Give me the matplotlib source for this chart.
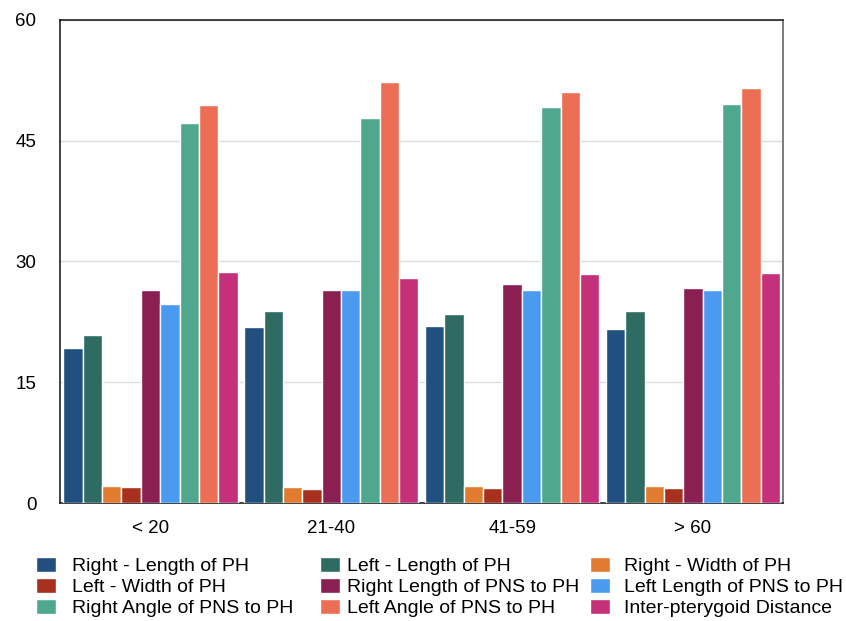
import numpy as np
import matplotlib.pyplot as plt

plt.rcParams['font.family'] = ['Liberation Sans', 'DejaVu Sans']

groups = ["< 20", "21-40", "41-59", "> 60"]
series_names = [
    "Right - Length of PH", "Left - Length of PH", "Right - Width of PH",
    "Left - Width of PH", "Right Length of PNS to PH", "Left Length of PNS to PH",
    "Right Angle of PNS to PH", "Left Angle of PNS to PH", "Inter-pterygoid Distance",
]
right_length = [19.3, 21.9, 22.0, 21.6]
left_length = [20.9, 23.8, 23.5, 23.8]
right_width = [2.1, 1.95, 2.1, 2.15]
left_width = [2.0, 1.8, 1.9, 1.85]
right_pns = [26.5, 26.5, 27.2, 26.7]
left_pns = [24.7, 26.5, 26.5, 26.5]
right_angle = [47.2, 47.8, 49.2, 49.5]
left_angle = [49.4, 52.3, 51.1, 51.5]
inter_pterygoid = [28.7, 28.0, 28.5, 28.6]

values = [right_length, left_length, right_width, left_width, right_pns,
          left_pns, right_angle, left_angle, inter_pterygoid]
colors = ["#204f80", "#2e6b63", "#e07b30", "#a8301e", "#8a1f52",
          "#4a9af0", "#4fa88e", "#ec6f55", "#c4307a"]

fig = plt.figure(figsize=(8.46, 6.21), dpi=100)
ax = fig.add_axes([0.071, 0.19, 0.855, 0.778])

x = np.arange(len(groups))
w = 0.107
handles = []
for i, (vals, c, name) in enumerate(zip(values, colors, series_names)):
    b = ax.bar(x + (i - 4) * w, vals, w, color=c, edgecolor="white",
               linewidth=1, label=name, zorder=3)
    handles.append(b)

ax.set_xlim(-0.5, 3.5)
ax.set_ylim(0, 60)
ax.set_yticks([0, 15, 30, 45, 60])
ax.set_xticks(x)
ax.set_xticklabels(groups)
ax.tick_params(length=0, labelsize=13.5)
ax.tick_params(axis="x", pad=12)
ax.tick_params(axis="y", pad=17)
ax.grid(axis="y", color="#dddddd", linewidth=1, zorder=0)
for s in ax.spines.values():
    s.set_color("#222222")
    s.set_linewidth(1.2)
ax.spines["right"].set_color("#666666")

# legend laid out as a fixed 3x3 grid, one legend per column
col_x = [0.042, 0.378, 0.697]
col_pad = [0.8, 0.35, 0.7]
for c in range(3):
    idx = [c, c + 3, c + 6]
    fig.legend([handles[k] for k in idx], [series_names[k] for k in idx],
               loc="upper left", bbox_to_anchor=(col_x[c], 0.103),
               frameon=False, fontsize=14, handlelength=1.05, handleheight=0.8,
               handletextpad=col_pad[c], labelspacing=0.15,
               borderaxespad=0, borderpad=0)

fig.savefig("out.png", dpi=100)
